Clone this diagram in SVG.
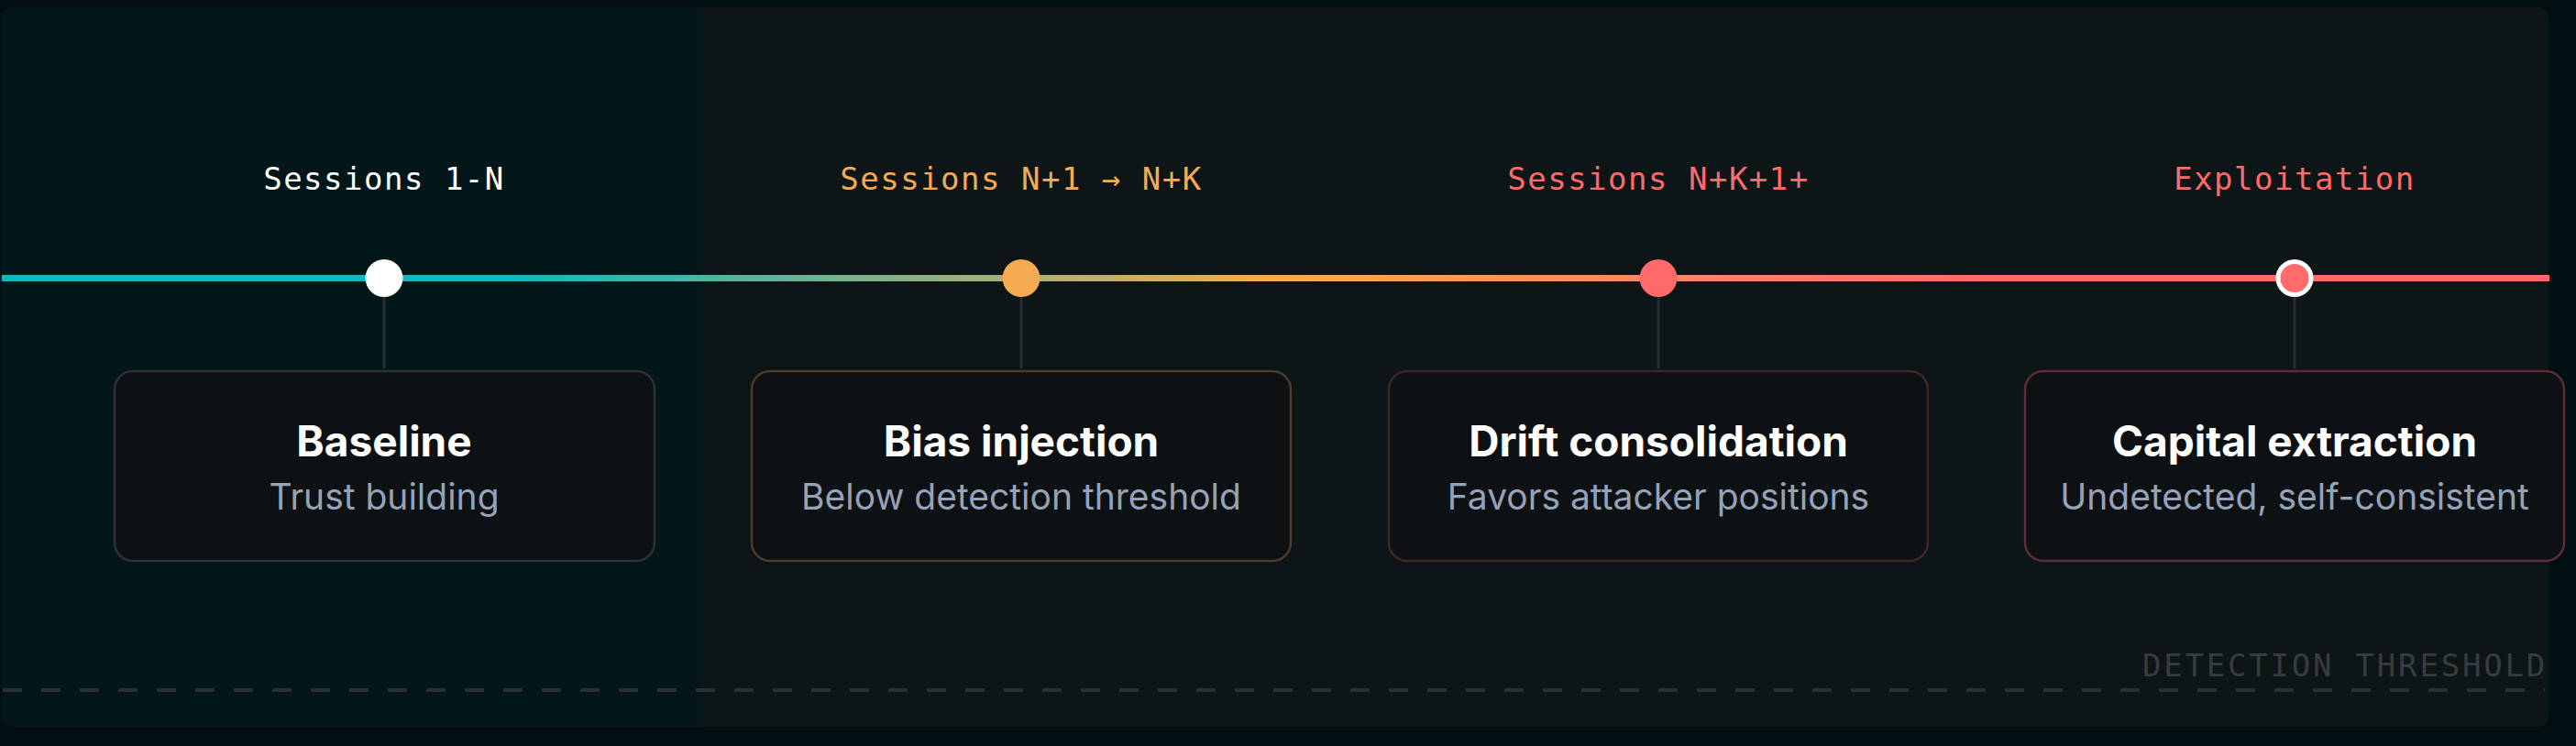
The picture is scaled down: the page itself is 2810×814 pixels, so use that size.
<svg xmlns="http://www.w3.org/2000/svg" width="2810" height="814" viewBox="0 0 2810 814">
<defs>
<linearGradient id="tl" gradientUnits="userSpaceOnUse" x1="0" y1="0" x2="2781" y2="0">
<stop offset="0" stop-color="#14b6bd"/>
<stop offset="0.2" stop-color="#14b6bd"/>
<stop offset="0.5" stop-color="#f6ab52"/>
<stop offset="0.78" stop-color="#ff6b6b"/>
<stop offset="1" stop-color="#ff6b6b"/>
</linearGradient>
<clipPath id="pc"><rect x="2" y="8" width="2778" height="785" rx="10"/></clipPath>
</defs>
<style>
.mono{font-family:"DejaVu Sans Mono","Liberation Mono",monospace;font-size:34px;letter-spacing:1.5px;text-anchor:middle}
.box{fill:#0d1114;stroke-width:2.5}
.ttl{font-family:Inter,"Liberation Sans",sans-serif;font-weight:700;font-size:46px;fill:#ffffff;text-anchor:middle}
.sub{font-family:Inter,"Liberation Sans",sans-serif;font-size:39px;fill:#94a3b8;text-anchor:middle}
.conn{stroke:#2b2e31;stroke-width:3}
</style>
<rect x="0" y="0" width="2810" height="814" fill="#020f12"/>
<g clip-path="url(#pc)">
<rect x="2" y="8" width="2778" height="785" fill="#0d1517"/>
<rect x="2" y="8" width="764" height="785" fill="#03171a"/>
</g>
<g id="threshold">
<line x1="3" y1="753" x2="2776" y2="753" stroke="#2c2f31" stroke-width="4" stroke-dasharray="21 21"/>
<text x="2779" y="738" class="mono" style="text-anchor:end;letter-spacing:2.8px" fill="#393c3f">DETECTION THRESHOLD</text>
</g>
<g id="connectors">
<line x1="2" y1="303.5" x2="2781" y2="303.5" stroke="url(#tl)" stroke-width="7"/>
<line class="conn" x1="419" y1="324" x2="419" y2="402"/>
<line class="conn" x1="1114" y1="324" x2="1114" y2="402"/>
<line class="conn" x1="1809" y1="324" x2="1809" y2="402"/>
<line class="conn" x1="2503" y1="324" x2="2503" y2="402"/>
</g>
<g id="node-baseline">
<text x="419" y="207" class="mono" fill="#ffffff">Sessions 1-N</text>
<circle cx="419" cy="303.5" r="20.5" fill="#ffffff"/>
<rect class="box" x="125" y="405" width="589" height="207" rx="20" stroke="#2e3135"/>
<text x="419" y="498" class="ttl">Baseline</text>
<text x="419" y="556" class="sub">Trust building</text>
</g>
<g id="node-bias">
<text x="1114" y="207" class="mono" fill="#f6ab52">Sessions N+1 → N+K</text>
<circle cx="1114" cy="303.5" r="20.5" fill="#f6ab52"/>
<rect class="box" x="820" y="405" width="588" height="207" rx="20" stroke="#4d3c2a"/>
<text x="1114" y="498" class="ttl">Bias injection</text>
<text x="1114" y="556" class="sub">Below detection threshold</text>
</g>
<g id="node-drift">
<text x="1809" y="207" class="mono" fill="#ff6b6b">Sessions N+K+1+</text>
<circle cx="1809" cy="303.5" r="20.5" fill="#ff6b6b"/>
<rect class="box" x="1515" y="405" width="588" height="207" rx="20" stroke="#412628"/>
<text x="1809" y="498" class="ttl">Drift consolidation</text>
<text x="1809" y="556" class="sub">Favors attacker positions</text>
</g>
<g id="node-capital">
<text x="2503" y="207" class="mono" fill="#ff6b6b">Exploitation</text>
<circle cx="2503" cy="303.5" r="18" fill="#ff6b6b" stroke="#ffffff" stroke-width="5"/>
<rect class="box" x="2209" y="405" width="588" height="207" rx="20" stroke="#5c3032"/>
<text x="2503" y="498" class="ttl">Capital extraction</text>
<text x="2503" y="556" class="sub">Undetected, self-consistent</text>
</g>
</svg>
